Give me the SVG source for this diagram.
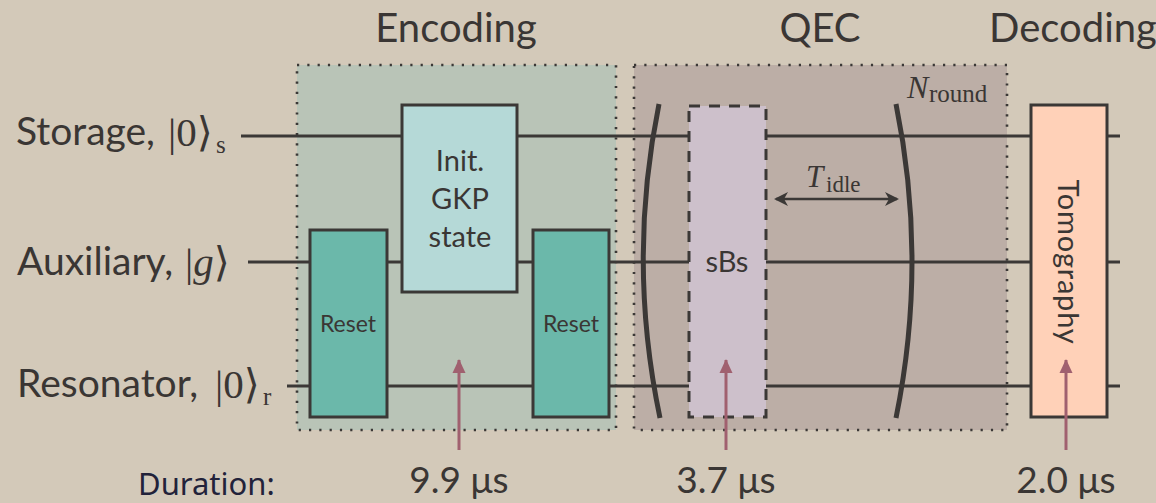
<svg xmlns="http://www.w3.org/2000/svg" width="1156" height="503" viewBox="0 0 1156 503">
<style>
  .t{font-family:Lato,"Open Sans","DejaVu Sans",sans-serif;font-weight:400;fill:#3a3634}
  .m{font-family:"Liberation Serif","DejaVu Serif",serif;font-weight:400;fill:#3a3634}
  .wire{stroke:#3b3836;stroke-width:3;fill:none}
  .box{stroke:#3b3836;stroke-width:3}
  .grp{stroke:#3b3836;stroke-width:2.6;stroke-dasharray:2.2 8.1}
  .paren{stroke:#3b3836;stroke-width:5;fill:none;stroke-linecap:butt}
  .dur{stroke:#a0606f;stroke-width:3}
</style>
<defs>
  <marker id="ah" markerWidth="14" markerHeight="14" refX="12" refY="7" orient="auto-start-reverse" markerUnits="userSpaceOnUse">
    <path d="M0,0 L14,7 L0,14 L4,7 Z" fill="#3b3836"/>
  </marker>
  <marker id="dh" markerWidth="14" markerHeight="14" refX="13" refY="7" orient="auto" markerUnits="userSpaceOnUse">
    <path d="M0,0.5 L14,7 L0,13.5 Z" fill="#a0606f"/>
  </marker>
</defs>
<rect width="1156" height="503" fill="#d3c9b9"/>

<g id="titles">
  <text class="t" x="456" y="42" font-size="40" text-anchor="middle">Encoding</text>
  <text class="t" x="820" y="42" font-size="40" text-anchor="middle">QEC</text>
  <text class="t" x="1073" y="42" font-size="40" text-anchor="middle">Decoding</text>
</g>

<g id="group-encoding">
  <rect class="grp" x="297" y="65" width="319" height="365" fill="#b9c4b7"/>
</g>
<g id="group-qec">
  <rect class="grp" x="634" y="65" width="373" height="365" fill="#bcaea6"/>
  <text x="907" y="98" class="m" font-size="32" font-style="italic">N</text>
  <text x="929" y="102" class="m" font-size="25">round</text>
</g>

<g id="labels">
  <g id="label-storage">
    <text class="t" x="16" y="145" font-size="39">Storage,</text>
    <text class="m" x="168" y="146" font-size="41">|0⟩</text>
    <text class="m" x="216" y="153" font-size="25">s</text>
  </g>
  <g id="label-auxiliary">
    <text class="t" x="17" y="275" font-size="39">Auxiliary,</text>
    <text class="m" x="185" y="276" font-size="41">|<tspan font-style="italic">g</tspan>⟩</text>
  </g>
  <g id="label-resonator">
    <text class="t" x="17" y="397" font-size="39">Resonator,</text>
    <text class="m" x="215" y="398" font-size="41">|0⟩</text>
    <text class="m" x="263" y="405" font-size="25">r</text>
  </g>
</g>

<g id="connectors">
  <line class="wire" x1="241" y1="136" x2="1120" y2="136"/>
  <line class="wire" x1="248" y1="262" x2="1120" y2="262"/>
  <line class="wire" x1="287" y1="386" x2="1120" y2="386"/>
  <line x1="776" y1="199" x2="897" y2="199" stroke="#3b3836" stroke-width="2.5" marker-start="url(#ah)" marker-end="url(#ah)"/>
</g>

<g id="node-reset1">
  <rect class="box" x="310" y="230" width="77" height="187" fill="#6bb8aa"/>
  <text class="t" x="348" y="332" font-size="23" text-anchor="middle">Reset</text>
</g>
<g id="node-init">
  <rect class="box" x="402" y="105" width="115" height="187" fill="#b5d9d7"/>
  <text class="t" x="460" y="171" font-size="29" text-anchor="middle">Init.</text>
  <text class="t" x="460" y="209" font-size="29" text-anchor="middle">GKP</text>
  <text class="t" x="460" y="247" font-size="29" text-anchor="middle">state</text>
</g>
<g id="node-reset2">
  <rect class="box" x="533" y="230" width="76" height="187" fill="#6bb8aa"/>
  <text class="t" x="571" y="332" font-size="23" text-anchor="middle">Reset</text>
</g>
<g id="node-sbs">
  <rect x="689" y="106" width="77" height="311" fill="#cdc0cb" stroke="#3b3836" stroke-width="3" stroke-dasharray="11 9"/>
  <text class="t" x="727" y="272" font-size="29" text-anchor="middle">sBs</text>
</g>
<g id="parens">
  <path class="paren" d="M659,104 Q627,261 660,418"/>
  <path class="paren" d="M896,104 Q928,261 896,418"/>
</g>
<g id="tidle">
  <text x="806" y="187" class="m" font-size="31" font-style="italic">T</text>
  <text x="826" y="192" class="m" font-size="23">idle</text>
</g>
<g id="node-tomography">
  <rect class="box" x="1031" y="105" width="76" height="312" fill="#ffd1b8"/>
  <text class="t" transform="translate(1058,262) rotate(90)" font-size="29" text-anchor="middle" letter-spacing="0.8">Tomography</text>
</g>

<g id="duration-arrows">
  <line class="dur" x1="459" y1="450" x2="459" y2="360" marker-end="url(#dh)"/>
  <line class="dur" x1="726" y1="450" x2="726" y2="360" marker-end="url(#dh)"/>
  <line class="dur" x1="1066" y1="450" x2="1066" y2="360" marker-end="url(#dh)"/>
</g>

<g id="durations">
  <text x="138" y="495" font-family="'Noto Sans','Open Sans',sans-serif" font-size="31" fill="#22223a">Duration:</text>
  <text class="t" x="459" y="493" font-size="37" text-anchor="middle">9.9 μs</text>
  <text class="t" x="726" y="493" font-size="37" text-anchor="middle">3.7 μs</text>
  <text class="t" x="1066" y="493" font-size="37" text-anchor="middle">2.0 μs</text>
</g>
</svg>
